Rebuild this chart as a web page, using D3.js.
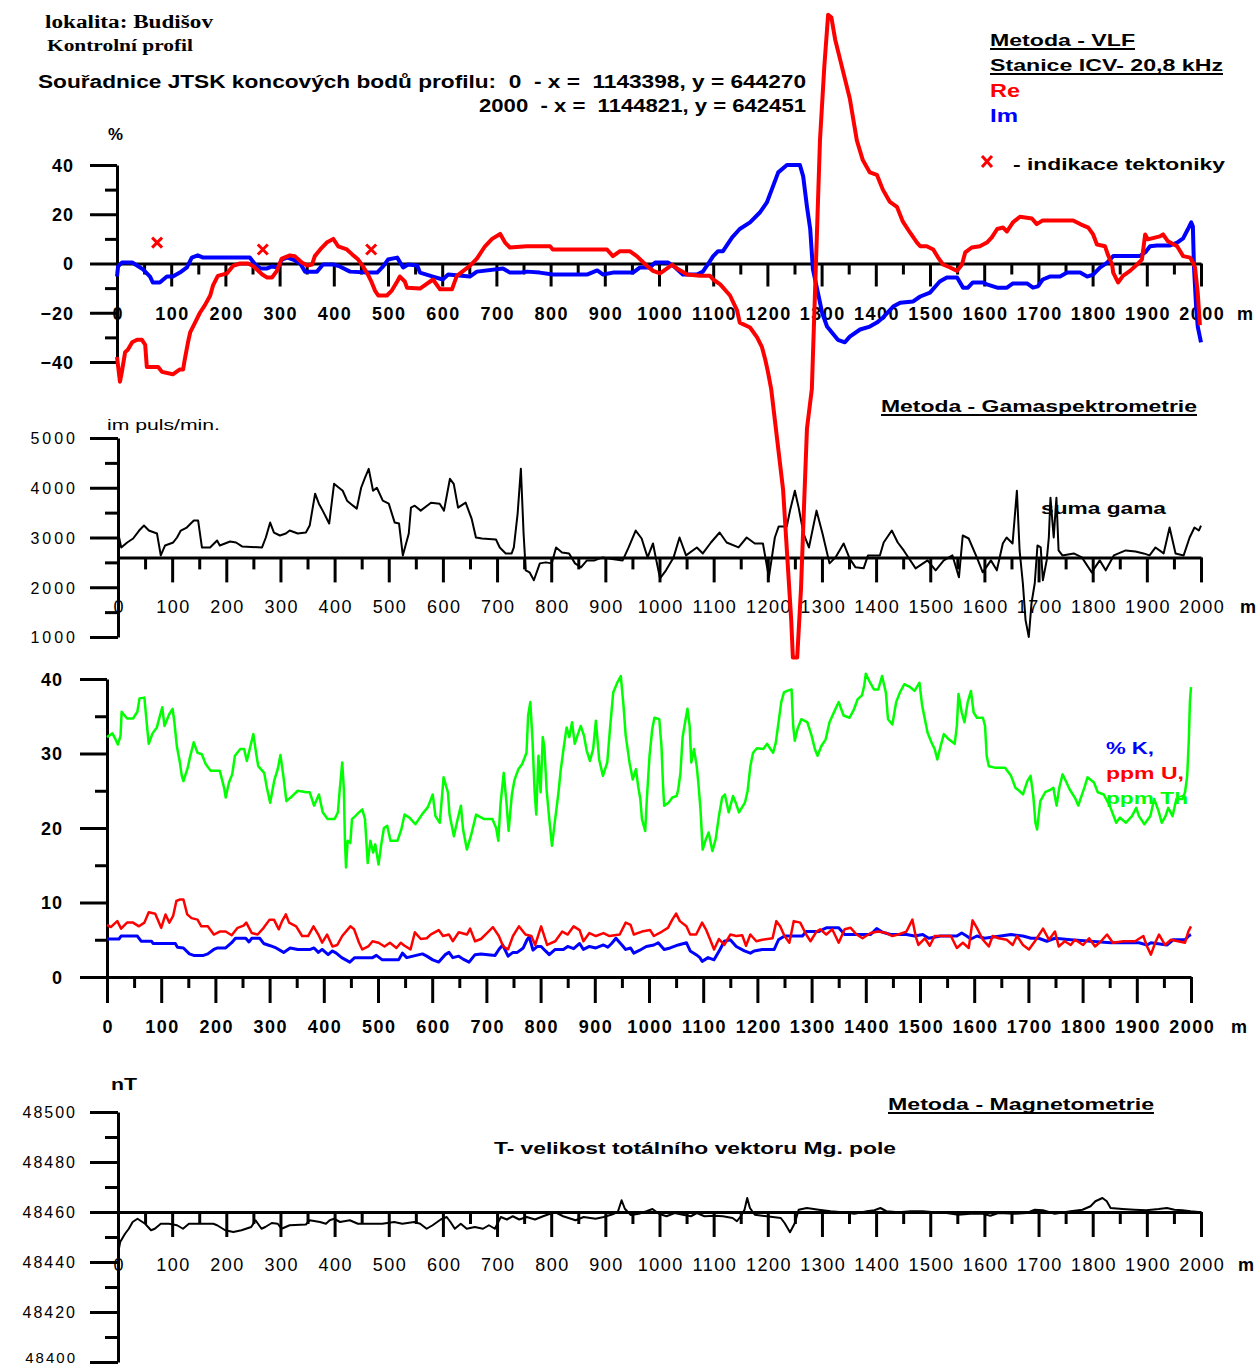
<!DOCTYPE html>
<html><head><meta charset="utf-8">
<script src="https://cdn.jsdelivr.net/npm/d3@7"></script>
<style>
body{margin:0;background:#fff;}
svg{display:block;background:#fff;}
text{white-space:pre;}
</style></head><body>
<svg id="chart" width="1259" height="1367"></svg>
<script>
// ---------------- DATA ----------------
const distMajor = [0,100,200,300,400,500,600,700,800,900,1000,1100,1200,1300,1400,1500,1600,1700,1800,1900,2000];
const distMinor = [50,150,250,350,450,550,650,750,850,950,1050,1150,1250,1350,1450,1550,1650,1750,1850,1950];
const vlfTicksMajor = [-40,-20,0,20,40];
const vlfTicksMinor = [-30,-10,10,30];
const gamTicksMajor = [1000,2000,3000,4000,5000];
const gamTicksMinor = [1500,2500,3500,4500];
const kutTicksMajor = [0,10,20,30,40];
const kutTicksMinor = [5,15,25,35];
const magTicksMajor = [48400,48420,48440,48460,48480,48500];
const magTicksMinor = [48410,48430,48450,48470,48490];

// VLF Re (%)
const reDist = [0,5.5,9,15,20,28,37,46,52,55,76,83,103,116,122,125,131,135,144,153,162,172,177,186,203,214,227,242,251,268,277,286,295,304,319,328,341,351,360,365,375,387,399,408,424,434,445,454,463,470,476,482,498,507,517,522,531,535,559,583,596,618,627,651,664,679,692,707,716,725,756,799,804,904,915,928,946,959,978,989,1002,1015,1024,1033,1052,1076,1094,1100,1113,1131,1144,1149,1168,1181,1190,1196,1201,1207,1229,1244,1247,1255,1262,1268,1273,1282,1297,1305,1312,1318,1325,1334,1352,1365,1376,1389,1402,1413,1426,1439,1450,1463,1476,1482,1494,1506,1515,1524,1537,1550,1559,1565,1577,1592,1605,1614,1624,1635,1642,1653,1666,1688,1697,1708,1764,1777,1792,1801,1808,1823,1828,1836,1838,1847,1856,1869,1882,1891,1897,1902,1924,1930,1939,1956,1967,1980,1985,1989,1994,1998];
const reVal  = [-38,-48,-44,-36,-35,-32,-31,-31,-33,-42,-42,-44,-45,-43,-43,-39,-32,-28,-24,-20,-17,-13,-9,-5,-4,-1,0,0,-1,-4.5,-5.7,-5.7,-3,2,3.3,3,0.4,-0.8,-0.4,3,5.7,8.5,10,7,5.7,3.7,1.6,-1.2,-4.5,-7.7,-11,-13,-13,-11,-7.3,-5.3,-7.3,-9.8,-10.2,-6.5,-10.5,-10.5,-5,-1,2,7,10,12,8.5,6.5,7,7,5.7,5.7,3,5,5,3,-1,-3,-4,-2,-0.5,-2,-4.5,-5,-5,-6.5,-8.5,-13,-19,-24,-26,-30,-34,-39,-44,-51,-92,-145,-160,-160,-132,-96,-67,-51,50,80,101,100,91,83,67,50,42,37,36,30,25,23,17,12.6,8.5,7,7,5.7,2.4,-0.4,-1.6,-3,-0.4,4.5,6.5,7,8.5,10.6,14,14.6,13,16.7,19,18.3,16,17.5,17.5,16,14.6,11.8,7.7,7,3.7,-0.4,-3.7,-7.7,-5,-3,-0.4,1.6,11.8,9.8,11,11.8,9,7,3,2.4,0.4,-1.6,-12,-25];

// VLF Im (%)
const imDist = [0,2,9,28,37,48,61,66,79,92,103,116,129,138,149,159,245,255,264,277,286,297,304,314,325,338,347,369,380,399,411,430,461,480,491,500,517,528,537,554,559,583,601,611,651,664,712,725,744,756,780,804,867,886,897,915,952,965,983,993,1017,1030,1044,1070,1081,1090,1100,1109,1118,1135,1149,1168,1186,1199,1208,1220,1236,1260,1266,1273,1279,1284,1292,1301,1310,1330,1343,1352,1371,1389,1402,1413,1432,1445,1469,1482,1500,1518,1531,1550,1561,1570,1579,1598,1605,1624,1642,1653,1679,1690,1699,1708,1721,1740,1753,1777,1790,1801,1814,1827,1838,1887,1897,1906,1919,1943,1956,1967,1976,1982,1985,1987,1991,1994,2000];
const imVal  = [-5.3,-1.2,0.4,0.4,-0.8,-2.4,-5.3,-7.7,-7.7,-5.3,-5.3,-3.7,-1.6,2.4,3.3,2.4,2.4,-0.4,-2,-2,-1.2,-1.6,1.6,2.4,1.6,0,-3.3,-3.3,-0.4,-0.4,-1.2,-3.3,-3.7,-3.7,-1.2,1.6,2.4,-1.6,-0.4,-0.8,-3.7,-5.3,-6.5,-4.5,-5.3,-3.3,-2,-3.7,-3.7,-3.3,-3.7,-4.5,-4.5,-2.8,-4.5,-3.7,-3.7,-1.6,-1.6,0.4,0.4,-1.6,-4.5,-4.5,-3.3,-0.4,3,5,5,10.6,14,16.7,20.7,24.8,30,37,40,40,35.4,23,14,-2.4,-10.6,-20,-25.6,-31,-32,-29.7,-26.8,-25.6,-24,-22,-17.5,-15.9,-15.4,-13.4,-11.8,-7.3,-5.7,-5.7,-9.8,-9.8,-7.7,-7.7,-8.5,-9.8,-9.8,-8.1,-8.1,-9.8,-9.3,-6.5,-5.3,-5.3,-3.7,-3.7,-5.3,-4.5,-1.6,0.4,3,3,4.5,7,7.3,7.3,8.5,10.2,14,16.7,15,-1.2,-17.5,-25.6,-32];

// tectonic indications (%)
const tectDist = [74,269,469];
const tectVal  = [8.5,5.7,5.7];

// suma gama (imp/min)
const gamDist = [2,6,17,28,39,48,57,72,79,87,102,109,116,127,140,148,155,170,183,188,207,218,229,266,273,281,288,299,310,317,332,347,354,364,371,378,390,399,408,415,423,434,441,449,456,463,471,478,489,500,511,519,526,530,537,541,548,559,578,594,602,613,620,628,642,653,661,672,698,705,716,727,731,738,744,749,753,760,768,779,790,801,809,820,833,844,855,866,880,895,906,932,943,956,967,978,988,993,1001,1012,1026,1037,1049,1069,1080,1095,1111,1124,1146,1161,1176,1191,1202,1213,1220,1235,1241,1250,1257,1266,1276,1290,1301,1314,1325,1340,1351,1362,1377,1385,1407,1414,1429,1440,1451,1473,1495,1510,1525,1541,1553,1560,1571,1586,1597,1612,1623,1634,1641,1652,1660,1665,1671,1676,1682,1687,1693,1698,1704,1708,1715,1719,1722,1728,1733,1737,1744,1765,1780,1798,1813,1824,1839,1861,1879,1894,1905,1916,1931,1942,1953,1968,1979,1988,1996,2000];
const gamVal  = [3000,2800,2900,2980,3140,3240,3140,3080,2640,2840,2900,3000,3140,3200,3340,3340,2800,2800,2940,2840,2920,2900,2820,2800,3000,3300,3100,3040,3080,3140,3080,3100,3240,3880,3680,3540,3280,4080,4000,3940,3740,3640,3580,4000,4200,4380,3940,4000,3740,3680,3300,3280,2640,2800,3080,3600,3640,3540,3700,3680,3540,4180,4080,3600,3700,3380,3000,2980,2960,2800,2680,2680,2800,3480,4380,3080,2340,2300,2140,2480,2500,2480,2800,2700,2680,2480,2400,2540,2540,2600,2580,2540,2800,3140,2980,2600,2880,2600,2180,2340,2600,3000,2640,2800,2680,2900,3100,2900,2800,3000,2880,2880,2200,3000,3220,3220,3540,3940,3600,3080,2800,3540,3080,2480,2600,2880,2580,2400,2380,2640,2640,2900,3140,2900,2740,2380,2540,2340,2540,2640,2200,3040,2980,2600,2300,2540,2340,2880,3000,2880,3940,2740,2080,1340,1000,1680,2080,2840,2800,2140,2540,3000,3800,3000,3800,2740,2640,2680,2600,2300,2540,2340,2640,2740,2720,2680,2640,2800,2680,3200,2680,2640,3000,3200,3140,3240];

// ppm Th
const thDist = [0,10,15,20,25,27,37,48,56,60,69,72,77,84,92,97,102,106,115,121,124,129,134,138,141,149,153,160,167,175,182,191,208,216,219,225,231,236,246,253,258,264,270,275,279,290,295,301,309,315,320,325,331,342,352,368,374,382,391,398,407,420,426,429,434,437,439,441,444,449,452,458,465,471,476,481,486,491,495,501,506,511,517,523,536,543,549,558,569,581,592,601,606,614,621,629,632,640,647,653,657,664,672,681,696,711,718,722,726,732,737,741,747,752,759,766,774,777,781,785,789,792,796,800,804,807,811,816,821,826,830,833,837,843,848,853,858,863,868,874,880,885,891,897,902,908,915,923,928,934,942,948,953,957,964,970,976,980,984,987,993,996,1001,1006,1010,1019,1023,1026,1028,1036,1043,1051,1054,1058,1062,1068,1071,1075,1078,1083,1088,1091,1095,1099,1105,1110,1117,1123,1129,1135,1140,1147,1155,1160,1166,1177,1182,1187,1192,1199,1211,1218,1224,1229,1234,1239,1244,1249,1255,1263,1266,1269,1274,1281,1292,1300,1306,1311,1318,1326,1333,1341,1350,1359,1370,1378,1385,1393,1397,1400,1408,1415,1423,1430,1437,1441,1449,1456,1463,1471,1482,1490,1499,1504,1514,1521,1527,1532,1538,1544,1553,1564,1568,1571,1577,1582,1588,1594,1599,1605,1616,1620,1623,1627,1638,1657,1668,1676,1683,1690,1698,1704,1709,1713,1716,1722,1731,1742,1746,1752,1757,1763,1769,1776,1787,1792,1798,1804,1809,1821,1828,1839,1850,1862,1869,1880,1891,1899,1904,1914,1925,1932,1940,1946,1953,1958,1966,1973,1984,1989,1993,1996,1998,2000];
const thVal  = [32.2,32.7,32,31.2,32.4,35.6,34.7,34.7,35.6,37.4,37.5,35.1,31.3,32.7,33.5,34.9,36.2,33.7,35.3,36,34.4,30.9,29,27,26.3,28.1,29.5,31.5,30.1,29.9,28.6,27.7,27.7,25.4,24.1,26.1,27.2,29.7,30.6,30.6,29,30.8,32.6,30.1,28.3,27.4,25.4,23.4,26.5,27.9,29.8,27.2,23.6,24.3,25,24.8,24.8,23,24.5,22.1,21.2,21.2,22.1,24.8,28.8,25.2,18.3,14.7,18.3,18,21.2,21.6,22.1,22.5,21.2,15.3,18.3,16.7,17.8,15.1,17.8,20,20.3,18.3,18.3,19.8,21.8,21.4,20.5,21.8,22.8,24.5,21.6,20.7,26.8,24.8,21.8,18.9,21.2,23,19.8,17.1,19.1,21.8,21.2,21.2,20,18.3,23.2,27.4,23.4,19.6,24.5,26.5,27.9,28.6,30.1,35.1,36.9,31.9,24.8,21.8,29.7,24.8,32.2,30.8,25.2,21.2,17.6,20.7,23,24.8,27.7,31,33.5,32.2,34.2,31.3,32.4,33.7,32.4,30.4,29,30.6,34.4,29.2,27,28.8,33.3,38.2,39.6,40.4,36.4,32.4,28.8,26.5,27.9,25.6,23.9,21.2,19.6,23.9,29.7,33.3,34.8,34.6,31,25.6,23,23.4,24.1,24.3,25.2,27.4,32.2,34.8,36,33.7,28.8,30.6,28.3,26.1,22.5,17.1,18.5,19.4,16.9,18.5,21.6,24.1,24.5,22.1,24.3,23.4,22.1,23.4,25,28.3,30.1,30.7,30.6,31.3,30.6,30.1,31.5,34.2,36.9,38.2,38.4,38.6,33.7,31.7,33.3,34.6,34.2,32.4,30.6,29.7,31,31.9,34.2,35.5,36.9,35.1,34.8,35.9,37.3,37.8,39.1,40.7,39.5,38.6,38.6,40.4,38.2,34.6,33.9,36.9,38.2,39.3,38.9,38.4,39.5,36.4,32.8,31.5,30.6,29.2,31,32.6,31.9,31.3,33.7,38,35.5,34.2,36.9,38.4,35.5,34.8,34.8,33.7,29.7,28.3,28.1,28.1,27,25.4,25,24.5,26.3,27,24.3,20.7,19.8,23.6,24.8,25.2,25.4,23,25.4,27.2,26.3,25.2,23.9,23,24.3,25.6,26.8,26.1,24.8,24.5,23,20.7,21.4,20.7,21.6,22.7,21.6,20.5,21.6,23.9,22.3,20.7,21.6,22.7,21.6,23.9,23.9,24.8,27,31.9,36.9,38.9];

// ppm U
const uDist = [0,7,19,26,37,48,59,69,77,89,100,108,115,122,128,134,141,148,156,167,174,186,197,208,219,230,241,252,257,267,278,289,300,308,317,323,330,336,349,360,371,381,390,397,406,416,425,434,449,456,465,471,482,490,501,512,522,534,542,549,560,568,579,590,597,612,620,631,638,649,664,670,679,690,701,712,723,731,740,749,760,772,783,790,801,812,827,840,850,861,872,879,890,902,916,927,946,957,966,972,987,1002,1009,1024,1035,1043,1050,1057,1069,1076,1087,1098,1105,1113,1120,1129,1139,1150,1161,1172,1179,1187,1198,1209,1228,1235,1242,1250,1259,1267,1279,1290,1298,1309,1316,1327,1338,1350,1361,1372,1383,1394,1409,1423,1438,1449,1460,1475,1486,1492,1497,1509,1518,1527,1542,1557,1568,1579,1590,1597,1605,1616,1627,1634,1645,1660,1671,1679,1690,1701,1712,1727,1738,1749,1756,1767,1778,1786,1801,1812,1823,1834,1845,1856,1875,1897,1912,1919,1926,1934,1941,1952,1963,1989,1995,2000];
const uVal  = [7,6.7,7.5,6.5,7.3,7.3,6.8,7.3,8.7,8.5,6.6,8.4,7.3,8.2,10.2,10.4,10.4,8.4,7.9,7.7,6.8,6.8,5.7,6.1,6.1,5.6,6.6,6.9,7.3,5.9,5.7,6.6,7.7,7.7,6.4,7.5,8.4,7.3,6.8,5.5,5.5,6.8,5.7,4.6,5.7,4.1,4.3,5.5,6.8,6.4,4.6,3.7,4.1,4.8,4.6,4.1,4.6,3.9,4.6,4.2,3.7,6,5.1,5.2,5.7,6.3,5.5,5.7,4.8,6,5.7,6.5,4.8,5.1,5.9,6.7,5.5,4.1,3.7,5.5,6.8,5.7,5.5,4.3,6.8,4.3,4.8,6.1,5.7,6.8,6.3,4.8,5.9,5.5,5.9,5.5,5.7,7.3,7,5.7,6.1,6.3,5.5,6.1,6.6,7.7,8.5,7.5,6.8,5.7,5.7,7.3,6.4,5,3.7,5.1,4.3,5.7,5.5,5.6,4.2,5.7,4.8,5,5.2,7.5,6.8,5.5,4.6,7.5,7.3,5.7,4.8,6.1,6.4,5.7,6.4,4.6,6.4,6.6,5.7,5.2,5.9,6.1,5.9,5.5,5.7,6.1,7.7,5.5,4.3,5.2,4.2,5.5,5.5,5.5,3.9,4.6,3.9,7.6,6.6,5,4.1,5.5,5.2,5,4.3,5.5,4.3,3.7,4.8,6.5,5,6.1,4.1,4.8,4.3,5,4.3,5.2,4.1,4.8,5.7,4.6,4.8,4.8,5.5,4.1,3,4.6,5.7,4.3,5,4.6,6.1,6.8];

// % K
const kDist = [0,22,26,56,63,82,85,126,130,141,152,160,178,186,197,204,219,230,237,256,262,267,282,289,301,312,326,338,352,375,382,390,397,408,416,423,433,448,457,490,497,508,538,545,553,582,590,601,612,624,631,638,649,657,668,679,690,716,723,730,740,749,757,768,775,779,786,794,801,809,816,827,842,850,861,872,879,890,902,916,924,931,939,950,957,966,972,983,995,1009,1017,1028,1039,1054,1069,1076,1087,1094,1098,1109,1120,1131,1139,1150,1161,1176,1187,1194,1209,1231,1239,1250,1283,1290,1313,1327,1350,1361,1379,1409,1420,1431,1446,1475,1490,1505,1516,1538,1568,1577,1586,1594,1605,1619,1649,1668,1690,1705,1719,1734,1749,1778,1815,1852,1904,1919,1926,1956,1967,1989,1997,2000];
const kVal  = [5.1,5.1,5.5,5.5,4.8,4.8,4.5,4.5,4,3.9,3.1,2.9,2.9,3.1,3.7,3.9,3.9,4.6,5.2,5.2,4.7,5.2,5.2,4.5,4.2,3.9,3.3,3.9,3.7,3.7,3.9,3.3,3.7,3,3.5,3.2,2.6,2,2.6,2.6,2.9,2.3,2.3,3.2,2.6,3.1,2.8,2.3,2,3,3.3,2.6,2.8,2.4,2,3,3.1,2.9,3.7,4.3,2.8,3.3,3.3,3.9,5,5.4,3.6,4.1,4.1,3.5,3,3.7,3.7,4.1,3.8,4.5,3.7,4.1,3.9,4.3,4,4.5,5.2,4.3,3.7,3.9,3.2,3.6,4.1,4.3,4.6,3.7,3.9,4.3,4.6,3.5,3,2.6,2.1,2.6,2.3,3.7,4.8,5,4.1,3.5,3.2,3.5,3.7,3.7,5,5.5,5.5,6.1,6.1,6.6,6.6,5.7,5.7,5.7,6.5,6,5.7,5.7,5.5,5.7,5.2,5.5,5.5,5.9,5.5,5.1,5.5,5.2,5.5,5.7,5.5,5.2,5.2,4.8,5.2,5,4.8,4.6,4.6,4.3,4.6,4.3,5,5,5.6,5.7];

// T (nT)
const magDist = [0,4,13,20,27,36,50,61,68,79,94,109,120,131,176,183,198,213,228,246,254,265,272,284,295,302,317,347,354,373,384,391,399,410,428,443,488,510,525,547,558,570,581,596,607,614,622,633,644,659,674,685,696,707,718,729,741,755,770,785,807,822,845,860,882,897,912,923,930,936,947,962,976,987,999,1013,1028,1043,1058,1069,1083,1102,1117,1135,1143,1150,1157,1162,1167,1176,1198,1224,1231,1241,1250,1257,1272,1294,1316,1338,1360,1383,1397,1408,1419,1442,1464,1486,1508,1530,1552,1574,1597,1611,1626,1656,1678,1693,1708,1730,1759,1781,1796,1805,1818,1826,1833,1855,1877,1899,1922,1937,1951,1966,1981,2000];
const magVal  = [48443.3,48448,48451.3,48453.3,48456,48457.3,48455.3,48452.7,48453.3,48455.3,48455.3,48454.7,48453.3,48455.3,48455.3,48454.7,48452.7,48452,48452.7,48454,48456.7,48453.3,48454,48455.6,48455.3,48453.3,48454.7,48455,48456.7,48456,48455.3,48456.7,48457.3,48456,48456.7,48455.3,48455.3,48456,48455.3,48456,48455.3,48453.3,48454.7,48457,48458,48456,48453.3,48455.3,48453.3,48454,48453.3,48454.7,48453.3,48458,48457,48458.3,48457,48458,48457,48458.3,48460,48458.3,48456.7,48458,48457.3,48458,48459,48460,48464.7,48461.3,48458.8,48459.3,48460.3,48461.2,48459.3,48458.3,48459.6,48458.9,48458.3,48459.6,48458.3,48458.5,48458.3,48457.6,48456.3,48458.3,48460.9,48465.6,48461.6,48458.9,48458.3,48457.6,48455.6,48451.9,48455.6,48460.9,48461.6,48460.9,48460.3,48459.9,48459.3,48460.3,48460.7,48461.6,48460.3,48459.9,48460.3,48460.3,48459.9,48459.6,48458.9,48459.3,48459.3,48458.5,48459.6,48459.3,48459.6,48460.9,48460.7,48459.3,48460.3,48460.9,48462.3,48464.3,48465.6,48464.3,48461.6,48461.2,48460.9,48460.7,48461.2,48461.6,48460.9,48460.7,48460.3,48459.9];

// ---------------- DRAWING ----------------
const FONT = '"Liberation Sans", Arial, sans-serif';
const SERIF = '"Liberation Serif", "Times New Roman", serif';
const RED = '#ff0000', BLUE = '#0000ff', GREEN = '#00ff00';
const svg = d3.select('#chart');

const vlfX = d3.scaleLinear().domain([0,2000]).range([117,1201]);
const vlfY = d3.scaleLinear().domain([-40,40]).range([362,165]);
const gamX = d3.scaleLinear().domain([0,2000]).range([118,1201]);
const gamY = d3.scaleLinear().domain([1000,5000]).range([637,438]);
const kutX = d3.scaleLinear().domain([0,2000]).range([107,1191]);
const kutY = d3.scaleLinear().domain([0,40]).range([977,679]);
const magX = d3.scaleLinear().domain([0,2000]).range([118,1201]);
const magY = d3.scaleLinear().domain([48400,48500]).range([1362,1112]);

function txt(x, y, s, o) {
  o = o || {};
  const t = svg.append('text').attr('x', x).attr('y', y).text(s)
    .attr('xml:space', 'preserve')
    .style('font-family', o.family || FONT)
    .style('font-size', (o.size || 18) + 'px')
    .style('font-weight', o.weight || 'bold')
    .attr('fill', o.fill || '#000')
    .attr('text-anchor', o.anchor || 'start');
  if (o.len) t.attr('textLength', o.len).attr('lengthAdjust', 'spacingAndGlyphs');
  if (o.ls) t.style('letter-spacing', o.ls + 'px');
  if (o.under) {
    svg.append('line').attr('x1', x).attr('x2', x + o.len).attr('y1', y + 3).attr('y2', y + 3)
      .attr('stroke', o.fill || '#000').attr('stroke-width', 2);
  }
  return t;
}

function styleAxis(g) {
  g.attr('font-family', null).attr('font-size', null);
  g.selectAll('.tick line').attr('stroke', '#000').attr('stroke-width', 3);
  g.select('.domain').attr('stroke', '#000').attr('stroke-width', 3);
}

function xAxis(x, yPix, o) {
  const gMin = svg.append('g').attr('transform', `translate(0,${yPix})`)
    .call(d3.axisBottom(x).tickValues(distMinor).tickSize(o.minor).tickFormat(''));
  gMin.select('.domain').remove();
  styleAxis(gMin);
  const g = svg.append('g').attr('transform', `translate(0,${yPix})`)
    .call(d3.axisBottom(x).tickValues(distMajor).tickSize(o.major).tickSizeOuter(0).tickFormat(d3.format('d')));
  styleAxis(g);
  g.selectAll('.tick text').attr('y', o.labelY - yPix).attr('dy', 0).attr('fill', '#000')
    .attr('dx', o.ls / 2)
    .style('font-family', FONT).style('font-size', o.fs + 'px')
    .style('font-weight', o.fw).style('letter-spacing', o.ls + 'px');
  txt(o.mX, o.labelY, 'm', {size: o.fs, weight: 'bold'});
}

function yAxis(y, xPix, major, minor, o) {
  const gMin = svg.append('g').attr('transform', `translate(${xPix},0)`)
    .call(d3.axisLeft(y).tickValues(minor).tickSize(o.minor).tickFormat(''));
  gMin.select('.domain').remove();
  styleAxis(gMin);
  const g = svg.append('g').attr('transform', `translate(${xPix},0)`)
    .call(d3.axisLeft(y).tickValues(major).tickSize(o.major).tickSizeOuter(0).tickFormat(d3.format('d')));
  styleAxis(g);
  g.selectAll('.tick text').attr('x', o.labelRight - xPix + o.ls).attr('dy', o.dy || '0.36em').attr('fill', '#000')
    .style('font-family', FONT).style('font-size', o.fs + 'px')
    .style('font-weight', o.fw).style('letter-spacing', o.ls + 'px');
  return g;
}

function drawLine(x, y, dist, vals, color, w) {
  const line = d3.line().x(i => x(dist[i])).y(i => y(vals[i]));
  svg.append('path').attr('d', line(d3.range(dist.length)))
    .attr('fill', 'none').attr('stroke', color).attr('stroke-width', w)
    .attr('stroke-linejoin', 'round');
}

// ---- Header ----
txt(45, 28, 'lokalita: Budišov', {family: SERIF, size: 18, len: 168});
txt(47, 51, 'Kontrolní profil', {family: SERIF, size: 16, len: 146});
txt(38, 88, 'Souřadnice JTSK koncových bodů profilu:  0  - x =  1143398, y = 644270', {size: 18, len: 768});
txt(479, 112, '2000  - x =  1144821, y = 642451', {size: 18, len: 327});

txt(990, 46, 'Metoda - VLF', {size: 17, len: 145, under: true});
txt(990, 71, 'Stanice ICV- 20,8 kHz', {size: 17, len: 233, under: true});
txt(990, 97, 'Re', {size: 18, fill: RED, len: 30});
txt(990, 122, 'Im', {size: 18, fill: BLUE, len: 28});
svg.append('path').attr('d', 'M982,156L992,167M992,156L982,167').attr('stroke', RED).attr('stroke-width', 3);
txt(1013, 170, '- indikace tektoniky', {size: 17, len: 212});
txt(108, 140, '%', {size: 16, len: 15});

// ---- Gamma panel ----
txt(881, 412, 'Metoda - Gamaspektrometrie', {size: 16, len: 316, under: true});
txt(107, 430, 'im puls/min.', {size: 15, weight: 'normal', len: 113});
yAxis(gamY, 118, gamTicksMajor, gamTicksMinor, {major: 28, minor: 13, labelRight: 75, fs: 16, fw: 'normal', ls: 3});
xAxis(gamX, gamY(2600), {major: 25, minor: 12, labelY: 613, fs: 18, fw: 'normal', ls: 1.5, mX: 1240});
drawLine(gamX, gamY, gamDist, gamVal, '#000', 2);
txt(1041, 514, 'suma gama', {size: 16, len: 125});

// ---- K U Th panel ----
yAxis(kutY, 107, kutTicksMajor, kutTicksMinor, {major: 27, minor: 12, labelRight: 62, fs: 18, fw: 'bold', ls: 1});
xAxis(kutX, kutY(0), {major: 26, minor: 11, labelY: 1033, fs: 18, fw: 'bold', ls: 1.5, mX: 1231});
drawLine(kutX, kutY, thDist, thVal, GREEN, 2.5);
drawLine(kutX, kutY, kDist, kVal, BLUE, 3);
drawLine(kutX, kutY, uDist, uVal, RED, 2.5);
txt(1106, 754, '% K,', {size: 16, fill: BLUE, len: 48});
txt(1106, 779, 'ppm U,', {size: 16, fill: RED, len: 78});
txt(1106, 804, 'ppm Th', {size: 16, fill: GREEN, len: 82});

// ---- Magnetometry panel ----
txt(111, 1090, 'nT', {size: 16, len: 26});
txt(888, 1110, 'Metoda - Magnetometrie', {size: 16, len: 266, under: true});
txt(494, 1154, 'T- velikost totálního vektoru Mg. pole', {size: 17, len: 402});
const magG = yAxis(magY, 118, magTicksMajor, magTicksMinor, {major: 28, minor: 13, labelRight: 75, fs: 16, fw: 'normal', ls: 2});
// keep the bottom label inside the picture
magG.selectAll('.tick text').filter(d => d === 48400).attr('dy', '0.05em').style('font-size', '15px');
xAxis(magX, magY(48460), {major: 25, minor: 12, labelY: 1271, fs: 18, fw: 'normal', ls: 1.5, mX: 1238});
drawLine(magX, magY, magDist, magVal, '#000', 2);

// ---- VLF panel (drawn last; Re overflows into gamma panel) ----
yAxis(vlfY, 117, vlfTicksMajor, vlfTicksMinor, {major: 27, minor: 12, labelRight: 73, fs: 18, fw: 'bold', ls: 1});
xAxis(vlfX, vlfY(0), {major: 23, minor: 11, labelY: 320, fs: 18, fw: 'bold', ls: 1.5, mX: 1237});
drawLine(vlfX, vlfY, imDist, imVal, BLUE, 4);
drawLine(vlfX, vlfY, reDist, reVal, RED, 4);
svg.selectAll('path.tect').data(d3.range(tectDist.length)).join('path').attr('class', 'tect')
  .attr('d', i => {
    const cx = vlfX(tectDist[i]), cy = vlfY(tectVal[i]);
    return `M${cx-5},${cy-5}L${cx+5},${cy+5}M${cx+5},${cy-5}L${cx-5},${cy+5}`;
  })
  .attr('stroke', RED).attr('stroke-width', 3);
</script></body></html>
